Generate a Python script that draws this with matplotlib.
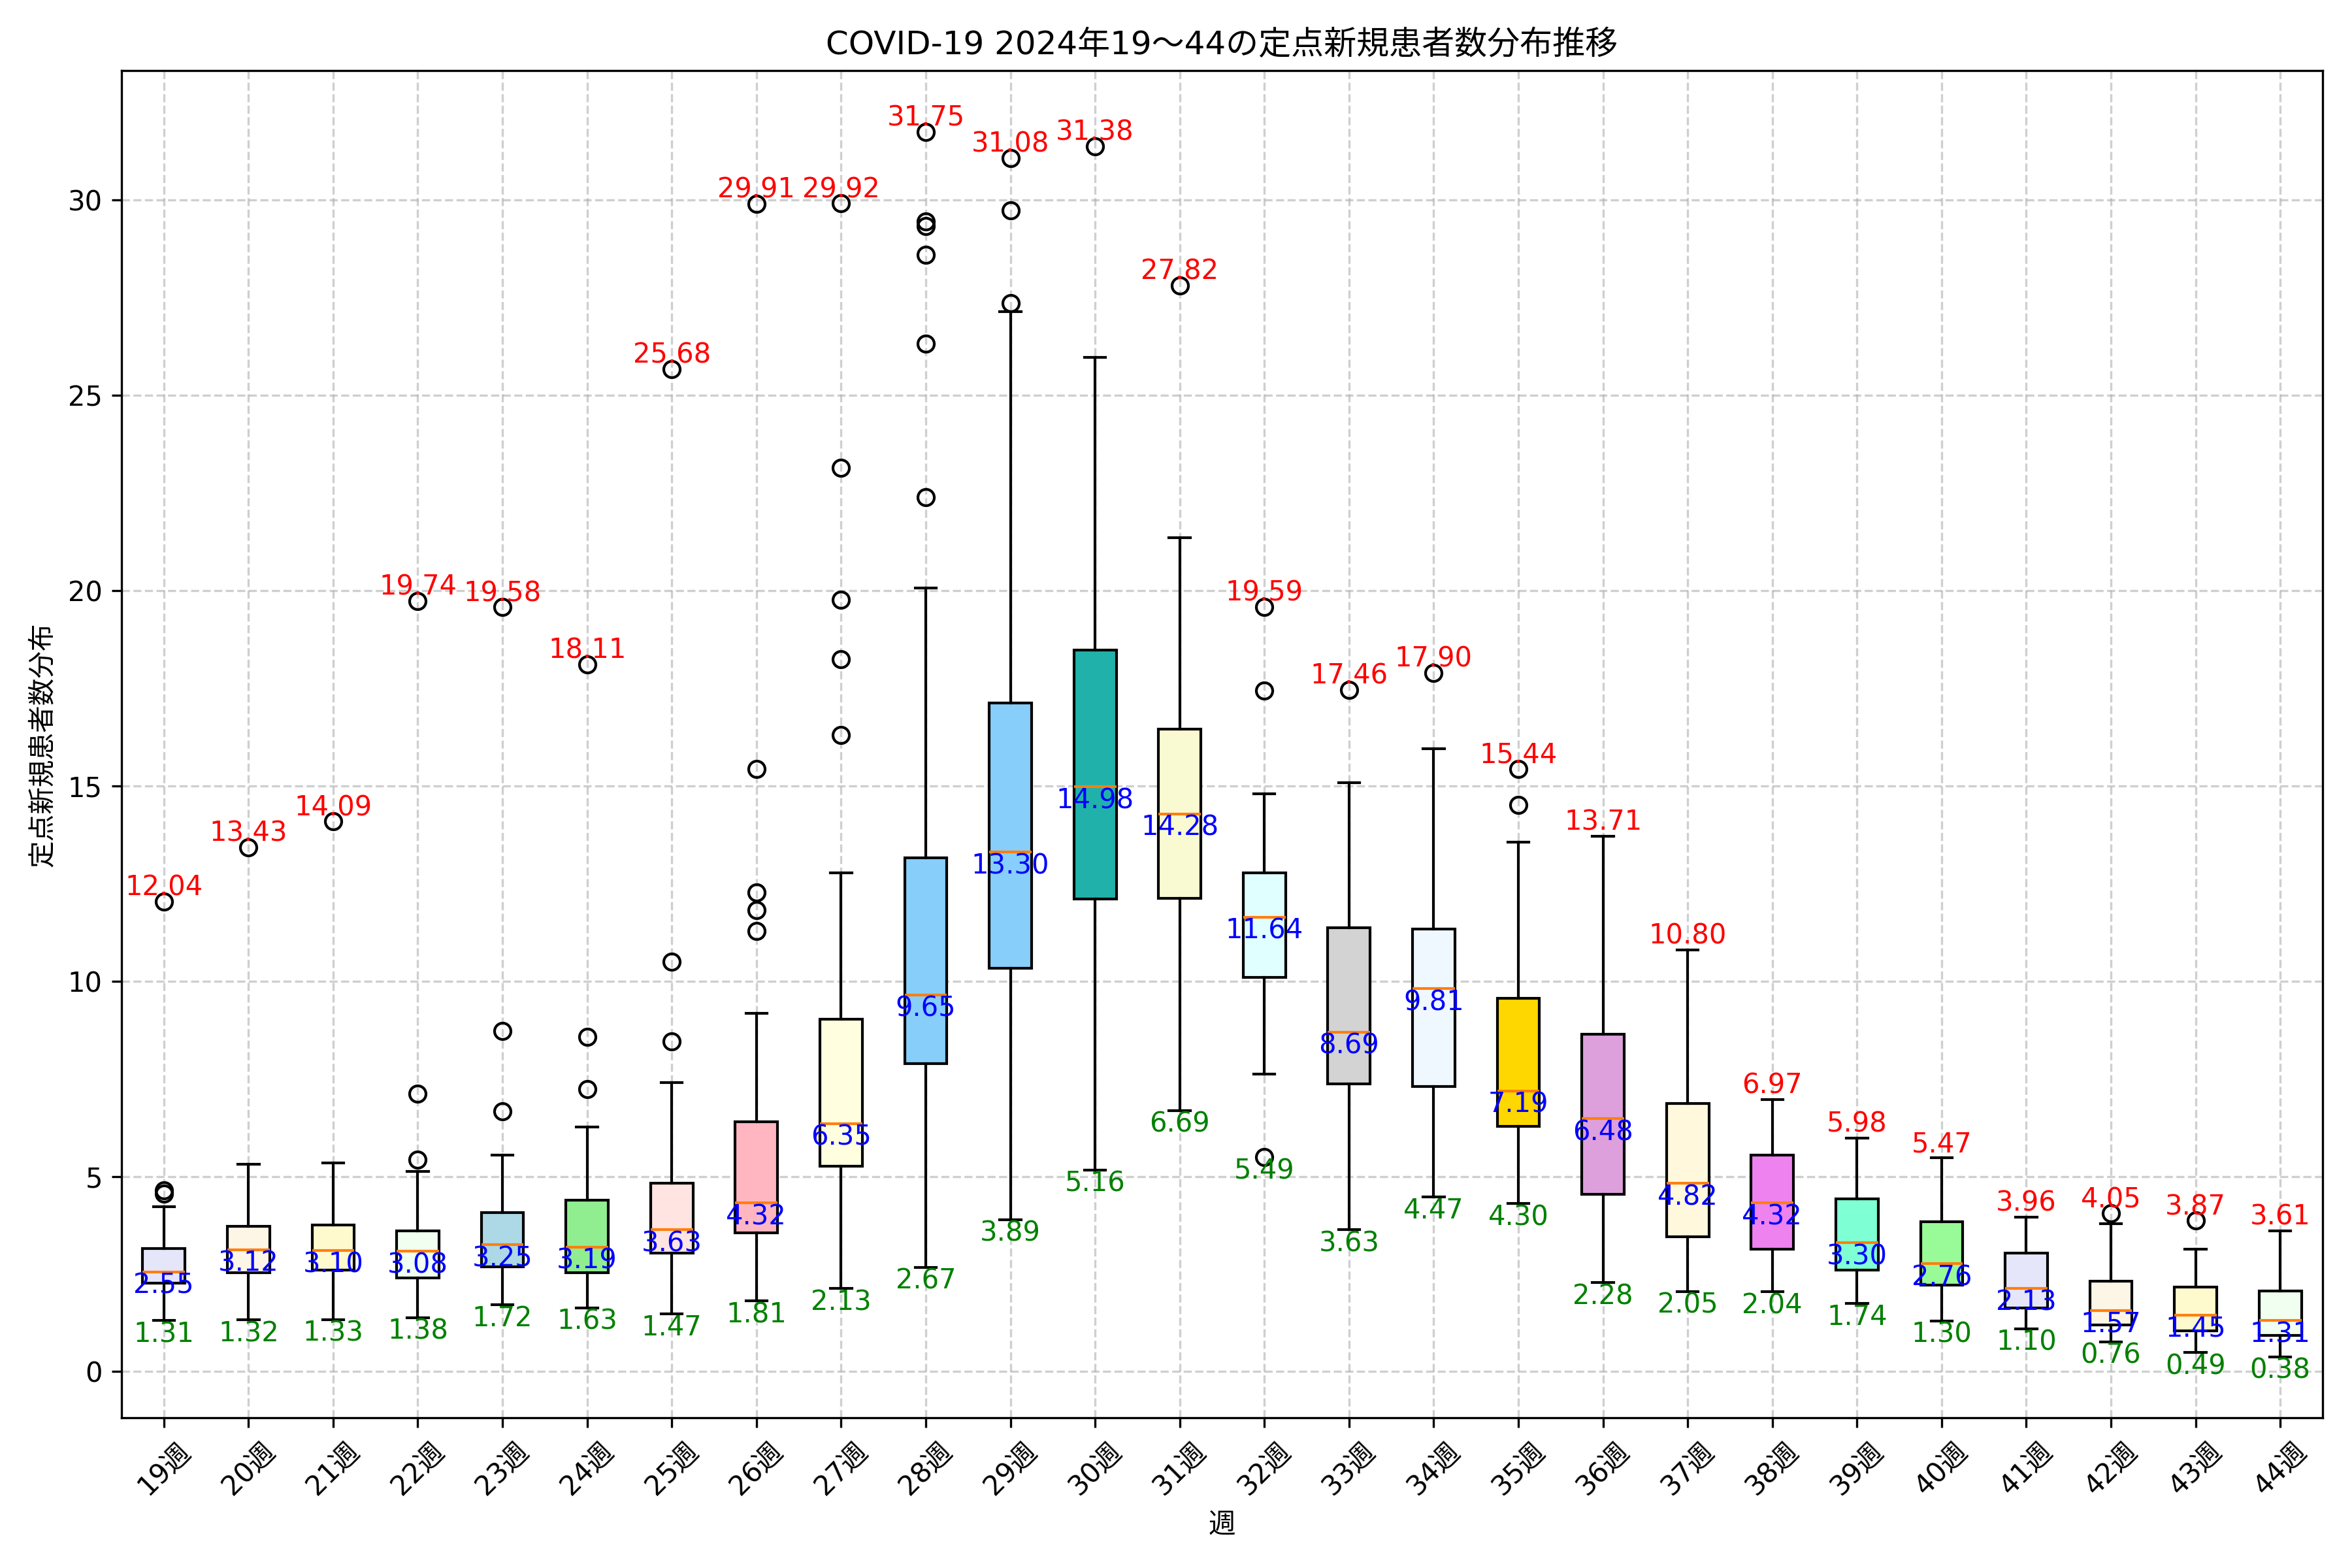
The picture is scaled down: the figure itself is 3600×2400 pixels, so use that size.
import matplotlib
matplotlib.use("Agg")
import matplotlib.pyplot as plt

plt.rcParams["font.family"] = ["DejaVu Sans", "Noto Sans CJK JP"]

# weekly distribution stats
weeks = list(range(19, 45))
q1 = [2.27, 2.54, 2.60, 2.40, 2.69, 2.54, 3.04, 3.56, 5.26, 7.88, 10.33, 12.10, 12.12,
      10.09, 7.37, 7.30, 6.28, 4.54, 3.45, 3.13, 2.60, 2.21, 1.63, 1.20, 1.05, 0.92]
med = [2.55, 3.12, 3.10, 3.08, 3.25, 3.19, 3.63, 4.32, 6.35, 9.65, 13.30, 14.98, 14.28,
       11.64, 8.69, 9.81, 7.19, 6.48, 4.82, 4.32, 3.30, 2.76, 2.13, 1.57, 1.45, 1.31]
q3 = [3.15, 3.72, 3.75, 3.60, 4.07, 4.39, 4.83, 6.39, 9.03, 13.16, 17.12, 18.48, 16.46,
      12.78, 11.37, 11.33, 9.56, 8.64, 6.87, 5.55, 4.42, 3.83, 3.04, 2.31, 2.17, 2.07]
whislo = [1.31, 1.32, 1.33, 1.38, 1.72, 1.63, 1.47, 1.81, 2.13, 2.67, 3.89, 5.16, 6.69,
          7.62, 3.63, 4.47, 4.30, 2.28, 2.05, 2.04, 1.74, 1.30, 1.10, 0.76, 0.49, 0.38]
whishi = [4.22, 5.31, 5.34, 5.13, 5.55, 6.26, 7.40, 9.18, 12.78, 20.06, 27.15, 25.98, 21.36,
          14.80, 15.08, 15.95, 13.56, 13.71, 10.80, 6.97, 5.98, 5.47, 3.96, 3.79, 3.13, 3.61]
fliers = [
    [4.56, 4.64, 12.04], [13.43], [14.09], [5.43, 7.11, 19.74], [6.67, 8.72, 19.58],
    [7.24, 8.57, 18.11], [8.45, 10.50, 25.68], [11.29, 11.82, 12.27, 15.44, 29.91],
    [16.31, 18.25, 19.76, 23.15, 29.92], [22.40, 26.32, 28.60, 29.34, 29.45, 31.75],
    [27.36, 29.73, 31.08], [31.38], [27.82], [5.49, 17.44, 19.59], [17.46], [17.90],
    [14.52, 15.44], [], [], [], [], [], [], [4.05], [3.87], [],
]
colors = ["lavender", "oldlace", "lemonchiffon", "honeydew", "lightblue", "lightgreen",
          "mistyrose", "lightpink", "lightyellow", "lightskyblue", "lightskyblue",
          "lightseagreen", "lightgoldenrodyellow", "lightcyan", "lightgray", "aliceblue",
          "gold", "plum", "cornsilk", "violet", "aquamarine", "palegreen",
          "lavender", "oldlace", "lemonchiffon", "honeydew"]
labels = [f"{w}週" for w in weeks]

stats = []
for i in range(len(weeks)):
    stats.append(dict(q1=q1[i], med=med[i], q3=q3[i], whislo=whislo[i],
                      whishi=whishi[i], fliers=fliers[i], label=labels[i]))

fig, ax = plt.subplots(figsize=(12, 8), dpi=300)
bp = ax.bxp(stats, patch_artist=True, showfliers=True)
for patch, c in zip(bp["boxes"], colors):
    patch.set_facecolor(c)

for i in range(len(weeks)):
    x = i + 1
    vmax = max([whishi[i]] + fliers[i])
    vmin = min([whislo[i]] + fliers[i])
    ax.text(x, vmax, f"{vmax:.2f}", ha="center", va="bottom", color="red", fontsize=10)
    ax.text(x, med[i], f"{med[i]:.2f}", ha="center", va="top", color="blue", fontsize=10)
    ax.text(x, vmin, f"{vmin:.2f}", ha="center", va="top", color="green", fontsize=10)

ax.set_title("COVID-19 2024年19～44の定点新規患者数分布推移")
ax.set_xlabel("週")
ax.set_ylabel("定点新規患者数分布")
ax.tick_params(axis="x", rotation=45)
ax.grid(True, linestyle="--", alpha=0.6)

fig.tight_layout()
fig.savefig("out.png", dpi=300)
